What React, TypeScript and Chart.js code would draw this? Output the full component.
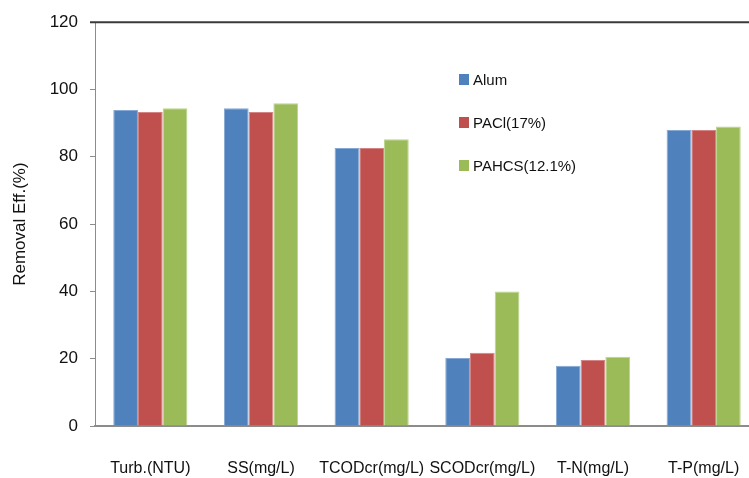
import React, { useEffect, useRef } from "react";
import { Chart, registerables } from "chart.js";

Chart.register(...registerables);

const categories = ["Turb.(NTU)", "SS(mg/L)", "TCODcr(mg/L)", "SCODcr(mg/L)", "T-N(mg/L)", "T-P(mg/L)"];
const alum = [93.9, 94.4, 82.6, 20.2, 17.9, 88.0];
const pacl = [93.3, 93.3, 82.6, 21.8, 19.6, 88.0];
const pahcs = [94.4, 95.9, 85.2, 40.0, 20.6, 89.0];
const seriesNames = ["Alum", "PACl(17%)", "PAHCS(12.1%)"];
const yTicks = [0, 20, 40, 60, 80, 100, 120];

const colors = ["#4F81BD", "#C0504D", "#9BBB59"];
const borders = ["#86a8d4", "#d48583", "#bcd48f"];

const sans = '"Liberation Sans", Arial, sans-serif';

export default function App() {
  const ref = useRef<HTMLCanvasElement | null>(null);

  useEffect(() => {
    if (!ref.current) return;
    const topLine = {
      id: "topLine",
      afterDraw(chart: any) {
        const { ctx, chartArea } = chart;
        ctx.save();
        ctx.strokeStyle = "#3a3a3a";
        ctx.lineWidth = 2;
        ctx.beginPath();
        ctx.moveTo(chartArea.left - 5, chartArea.top);
        ctx.lineTo(chartArea.right, chartArea.top);
        ctx.stroke();
        ctx.restore();
      },
    };
    const data = [alum, pacl, pahcs];
    const chart = new Chart(ref.current, {
      type: "bar",
      data: {
        labels: categories,
        datasets: seriesNames.map((name, i) => ({
          label: name,
          data: data[i],
          backgroundColor: colors[i],
          borderColor: borders[i],
          borderWidth: 1,
          categoryPercentage: 0.67,
          barPercentage: 1.0,
        })),
      },
      options: {
        responsive: false,
        animation: false,
        layout: { padding: { top: 20, bottom: 0, left: 0, right: 11 } },
        plugins: { legend: { display: false }, tooltip: { enabled: false } },
        scales: {
          x: {
            grid: { display: false },
            border: { display: true, color: "#8c8c8c", width: 2 },
            ticks: {
              color: "#111",
              font: { family: sans, size: 16 },
              padding: 25,
              maxRotation: 0,
              autoSkip: false,
            },
            afterFit(scale: any) {
              scale.height = 52;
            },
          },
          y: {
            min: 0,
            max: 120,
            afterBuildTicks(scale: any) {
              scale.ticks = yTicks.map((v) => ({ value: v }));
            },
            grid: { drawOnChartArea: false, drawTicks: true, tickLength: 5, color: "#8c8c8c" },
            border: { display: true, color: "#8c8c8c", width: 1 },
            ticks: {
              color: "#111",
              font: { family: sans, size: 17 },
              padding: 12,
            },
            title: {
              display: true,
              text: "Removal Eff.(%)",
              color: "#111",
              font: { family: sans, size: 17 },
              padding: { top: 10, bottom: 0 },
            },
            afterFit(scale: any) {
              scale.width = 95;
            },
          },
        },
      },
      plugins: [topLine],
    });
    return () => chart.destroy();
  }, []);

  const legendTop = [79, 122, 165];

  return (
    <div style={{ position: "fixed", left: 0, top: 0, width: 749, height: 478, overflow: "hidden", background: "#fff" }}>
      <canvas ref={ref} width={770} height={478} style={{ position: "absolute", left: 0, top: 0 }} />
      {seriesNames.map((name, i) => (
        <div
          key={name}
          style={{
            position: "absolute",
            left: 459,
            top: legendTop[i] - 10,
            height: 20,
            display: "flex",
            alignItems: "center",
            fontFamily: sans,
            fontSize: 15,
            color: "#111",
            whiteSpace: "nowrap",
          }}
        >
          <span style={{ display: "inline-block", width: 10, height: 11, background: colors[i], marginRight: 4 }} />
          <span>{name}</span>
        </div>
      ))}
    </div>
  );
}
